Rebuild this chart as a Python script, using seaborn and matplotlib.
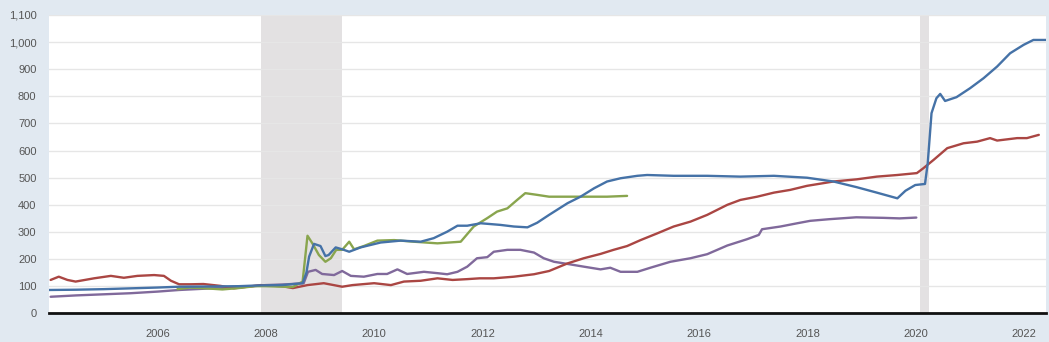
import numpy as np
import pandas as pd
import matplotlib
matplotlib.use("Agg")
import matplotlib.pyplot as plt
import matplotlib.ticker as mticker
import matplotlib.dates as mdates
import seaborn as sns

# ---- data (decimal years, index values) ----
blue_t = [2004.0, 2004.5, 2005.0, 2005.5, 2006.0, 2006.4, 2007.0, 2007.5, 2007.9, 2008.3,
          2008.68, 2008.75, 2008.80, 2008.89, 2009.01, 2009.10, 2009.16, 2009.29, 2009.41,
          2009.54, 2009.75, 2010.12, 2010.49, 2010.86, 2011.10, 2011.35, 2011.54, 2011.72,
          2011.97, 2012.33, 2012.58, 2012.83, 2013.01, 2013.23, 2013.57, 2013.81, 2014.06,
          2014.30, 2014.55, 2014.86, 2015.04, 2015.53, 2016.15, 2016.76, 2017.38, 2017.99,
          2018.48, 2018.91, 2019.28, 2019.66, 2019.81, 2019.99, 2020.17, 2020.22, 2020.29,
          2020.38, 2020.45, 2020.54, 2020.75, 2021.00, 2021.25, 2021.50, 2021.74, 2021.99,
          2022.17, 2022.41]
blue_v = [86, 87, 89, 92, 95, 98, 99, 100, 103, 104,
          111, 150, 209, 256, 248, 211, 215, 243, 236,
          227, 243, 261, 268, 264, 277, 301, 323, 323,
          332, 326, 320, 317, 334, 363, 406, 430, 461,
          486, 498, 507, 510, 507, 507, 504, 507, 500,
          486, 465, 445, 424, 452, 473, 477, 553, 738,
          793, 809, 783, 797, 830, 867, 910, 959, 990,
          1008, 1008]

red_t = [2004.03, 2004.18, 2004.34, 2004.49, 2004.83, 2005.14, 2005.38, 2005.63, 2005.94,
         2006.12, 2006.25, 2006.40, 2006.61, 2006.85, 2007.17, 2007.41, 2007.66, 2007.91,
         2008.3, 2008.5, 2008.77, 2009.07, 2009.41, 2009.6, 2010.0, 2010.31, 2010.55,
         2010.86, 2011.17, 2011.45, 2011.72, 2011.95, 2012.21, 2012.58, 2012.95, 2013.23,
         2013.57, 2013.87, 2014.18, 2014.42, 2014.67, 2014.92, 2015.23, 2015.53, 2015.84,
         2016.15, 2016.52, 2016.76, 2017.07, 2017.38, 2017.68, 2017.99, 2018.48, 2018.91,
         2019.28, 2019.66, 2020.02, 2020.14, 2020.33, 2020.58, 2020.88, 2021.13, 2021.37,
         2021.5, 2021.87, 2022.05, 2022.27]
red_v = [123, 135, 123, 117, 129, 138, 131, 138, 141,
         138, 120, 107, 107, 108, 101, 92, 98, 104,
         100, 93, 104, 111, 98, 104, 111, 104, 117,
         120, 129, 123, 126, 129, 129, 135, 144, 156,
         184, 203, 219, 234, 248, 270, 295, 320, 338,
         363, 400, 418, 430, 445, 455, 470, 486, 494,
         504, 510, 517, 535, 566, 609, 627, 633, 646,
         637, 646, 646, 658]

green_t = [2006.37, 2006.6, 2006.9, 2007.2, 2007.5, 2007.8, 2008.0, 2008.3, 2008.5, 2008.68,
           2008.77, 2008.86, 2008.98, 2009.10, 2009.20, 2009.30, 2009.41, 2009.54, 2009.63,
           2009.81, 2010.06, 2010.37, 2010.73, 2011.17, 2011.60, 2011.84, 2012.09, 2012.27,
           2012.46, 2012.64, 2012.79, 2013.00, 2013.23, 2013.8, 2014.3, 2014.67]
green_v = [89, 95, 92, 88, 93, 100, 100, 98, 97, 117,
           286, 258, 215, 190, 203, 234, 234, 264, 236,
           248, 268, 270, 264, 258, 264, 320, 351, 375,
           387, 418, 443, 437, 430, 430, 430, 433]

purple_t = [2004.03, 2004.5, 2005.0, 2005.5, 2006.0, 2006.4, 2007.0, 2007.66, 2008.0, 2008.4,
            2008.70, 2008.78, 2008.92, 2009.04, 2009.26, 2009.41, 2009.57, 2009.81, 2010.06,
            2010.24, 2010.43, 2010.61, 2010.92, 2011.17, 2011.35, 2011.54, 2011.72, 2011.90,
            2012.09, 2012.21, 2012.46, 2012.70, 2012.95, 2013.13, 2013.32, 2013.57, 2013.87,
            2014.18, 2014.36, 2014.55, 2014.86, 2015.10, 2015.47, 2015.84, 2016.15, 2016.52,
            2016.88, 2017.10, 2017.16, 2017.50, 2017.81, 2018.05, 2018.4, 2018.9, 2019.4,
            2019.7, 2020.01]
purple_v = [61, 66, 70, 74, 80, 86, 92, 98, 104, 107,
            111, 153, 160, 145, 141, 156, 138, 135, 145,
            145, 162, 145, 153, 148, 144, 153, 172, 203,
            207, 227, 234, 234, 224, 203, 190, 182, 172,
            162, 168, 153, 153, 168, 190, 203, 218, 250,
            273, 289, 310, 320, 332, 341, 347, 354, 352,
            350, 353]

recessions = [("2007-12-01", "2009-06-01"), ("2020-02-01", "2020-04-01")]
y_ticks = list(range(0, 1101, 100))
x_tick_years = list(range(2006, 2023, 2))

colors = {"blue": "#4572a7", "red": "#aa4643", "green": "#89a54e", "purple": "#80699b"}


def to_date(d):
    y = int(np.floor(d))
    s = pd.Timestamp(year=y, month=1, day=1)
    e = pd.Timestamp(year=y + 1, month=1, day=1)
    return s + (d - y) * (e - s)


frames = []
for name, t, v in [("blue", blue_t, blue_v), ("red", red_t, red_v),
                   ("green", green_t, green_v), ("purple", purple_t, purple_v)]:
    frames.append(pd.DataFrame({"date": [to_date(x) for x in t], "value": v, "series": name}))
df = pd.concat(frames, ignore_index=True)

sns.set_theme(style="white")
plt.rcParams["font.family"] = ["Liberation Sans", "DejaVu Sans"]

fig = plt.figure(figsize=(10.49, 3.42), dpi=100)
fig.patch.set_facecolor("#e1e9f1")
ax = fig.add_axes([49 / 1049, 28.7 / 342, (1046 - 49) / 1049, (327 - 28.7) / 342])
ax.set_facecolor("white")

for s, e in recessions:
    ax.axvspan(pd.Timestamp(s), pd.Timestamp(e), color="#e3e1e2", lw=0, zorder=0)

for name in ["purple", "red", "green", "blue"]:
    sub = df[df.series == name]
    sns.lineplot(data=sub, x="date", y="value", ax=ax, color=colors[name], lw=1.7,
                 estimator=None, sort=False, zorder=3)

ax.set_xlim(pd.Timestamp("2004-01-01"), pd.Timestamp("2022-05-28"))
ax.set_ylim(0, 1100)
ax.set_yticks(y_ticks)
ax.yaxis.set_major_formatter(mticker.FuncFormatter(lambda v, p: f"{int(v):,}"))
ax.set_xticks([pd.Timestamp(f"{y}-01-01") for y in x_tick_years])
ax.xaxis.set_major_formatter(mdates.DateFormatter("%Y"))
ax.grid(axis="y", color="#e6e6e6", lw=1)
ax.grid(axis="x", visible=False)
ax.set_axisbelow(True)
for sp in ["top", "left", "right"]:
    ax.spines[sp].set_visible(False)
ax.spines["bottom"].set_color("#111111")
ax.spines["bottom"].set_linewidth(2)
ax.spines["bottom"].set_zorder(5)
ax.tick_params(axis="x", length=8, width=1, color="#c6d2df", labelsize=8, labelcolor="#555555", pad=3)
ax.tick_params(axis="y", length=0, labelsize=8, labelcolor="#555555", pad=9)
ax.set_xlabel("")
ax.set_ylabel("")
legend = ax.get_legend()
if legend:
    legend.remove()

fig.savefig("out.png", dpi=100, facecolor=fig.get_facecolor())
